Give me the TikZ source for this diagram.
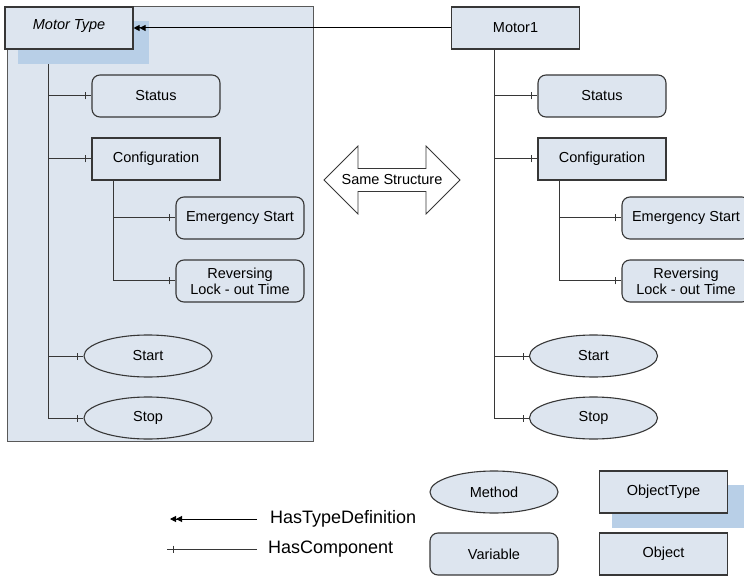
\documentclass[tikz,border=0pt]{standalone}
\usepackage{fontspec}
\setmainfont{Liberation Sans}
\usetikzlibrary{arrows.meta,shadows,shapes.geometric,decorations.markings}
\definecolor{nodefill}{RGB}{221,229,239}
\definecolor{shadowblue}{RGB}{184,207,231}
\definecolor{edgegray}{RGB}{55,55,55}
\pgfdeclarelayer{back}
\pgfdeclarelayer{lines}
\pgfsetlayers{back,lines,main}

\begin{document}
\begin{tikzpicture}[x=1pt,y=-1pt,
  font=\fontsize{14.5}{16}\selectfont,
  box/.style={draw=edgegray, line width=1.1pt, fill=nodefill, minimum width=128pt, minimum height=42pt, inner sep=0pt},
  obj/.style={box},
  objtype/.style={box, drop shadow={shadow xshift=14pt, shadow yshift=-14pt, shadow scale=1.03, fill=shadowblue, opacity=1}},
  var/.style={box, rounded corners=8pt},
  meth/.style={box, ellipse},
  hascomp/.style={draw=edgegray, line width=1pt, postaction={decorate},
    decoration={markings, mark=at position -6pt with {\draw[line width=0.7pt] (0,-3.5pt) -- (0,3.5pt);}}},
  hastype/.style={draw=black, line width=1pt, -{Triangle[length=6pt,width=6pt]Triangle[length=6pt,width=6pt]}},
  legtext/.style={anchor=west, inner sep=0pt, font=\fontsize{18}{20}\selectfont},
]
\useasboundingbox (0,0) rectangle (744,577);

\begin{pgfonlayer}{back}
\draw[gray!70!black, fill=nodefill, line width=1pt] (7,7) rectangle (313,441);
\end{pgfonlayer}

% type side
\node[objtype, font=\fontsize{14.5}{16}\selectfont\itshape] (mtype) at (69,28) {\raisebox{7pt}{Motor Type}};
\node[var] (lstatus) at (156,96) {Status};
\node[obj] (lconf) at (156,159) {Configuration};
\node[var] (lemerg) at (240,218) {Emergency Start};
\node[var, align=center] (lrev) at (240,281) {Reversing\\Lock - out Time};
\node[meth] (lstart) at (148,356) {Start};
\node[meth] (lstop) at (148,418) {Stop};

% instance side
\node[obj] (motor1) at (515.5,28) {Motor1};
\node[var] (rstatus) at (602,96) {Status};
\node[obj] (rconf) at (602,159) {Configuration};
\node[var] (remerg) at (686,218) {Emergency Start};
\node[var, align=center] (rrev) at (686,281) {Reversing\\Lock - out Time};
\node[meth] (rstart) at (593.5,356) {Start};
\node[meth] (rstop) at (593.5,418) {Stop};

\coordinate (ltrunk) at ([xshift=-21pt]mtype.south);
\coordinate (rtrunk) at ([xshift=-21.5pt]motor1.south);
\coordinate (lsub) at ([xshift=-43pt]lconf.south);
\coordinate (rsub) at ([xshift=-43pt]rconf.south);

\node (same) at (392,180) {Same Structure};

\begin{pgfonlayer}{lines}
\foreach \c in {lstatus,lconf,lstart,lstop}
  \draw[hascomp] (ltrunk) |- (\c.west);
\foreach \c in {rstatus,rconf,rstart,rstop}
  \draw[hascomp] (rtrunk) |- (\c.west);
\foreach \c in {lemerg,lrev}
  \draw[hascomp] (lsub) |- (\c.west);
\foreach \c in {remerg,rrev}
  \draw[hascomp] (rsub) |- (\c.west);
\draw[edgegray, line width=0.8pt, fill=white] (same.center) ++(-68,0) -- ++(34,-34) -- ++(0,22.5) -- ++(68,0)
  -- ++(0,-22.5) -- ++(34,34) -- ++(-34,34) -- ++(0,-22.5) -- ++(-68,0) -- ++(0,22.5) -- cycle;
\end{pgfonlayer}

\draw[hastype] (motor1.west) -- (mtype.east);

% legend
\node[meth] (lgmeth) at (494,492) {Method};
\node[objtype] (lgotype) at (663.5,492) {ObjectType};
\node[var] (lgvar) at (494,554) {Variable};
\node[obj] (lgobj) at (663.5,554) {Object};
\node[legtext] (lgtd) at (270,519) {HasTypeDefinition};
\node[legtext] (lgcomp) at (268,549) {HasComponent};
\draw[hastype] ([xshift=-13pt]lgtd.west) -- ++(-87,0);
\draw[hascomp] ([xshift=-11pt]lgcomp.west) -- ++(-90,0);
\end{tikzpicture}
\end{document}
